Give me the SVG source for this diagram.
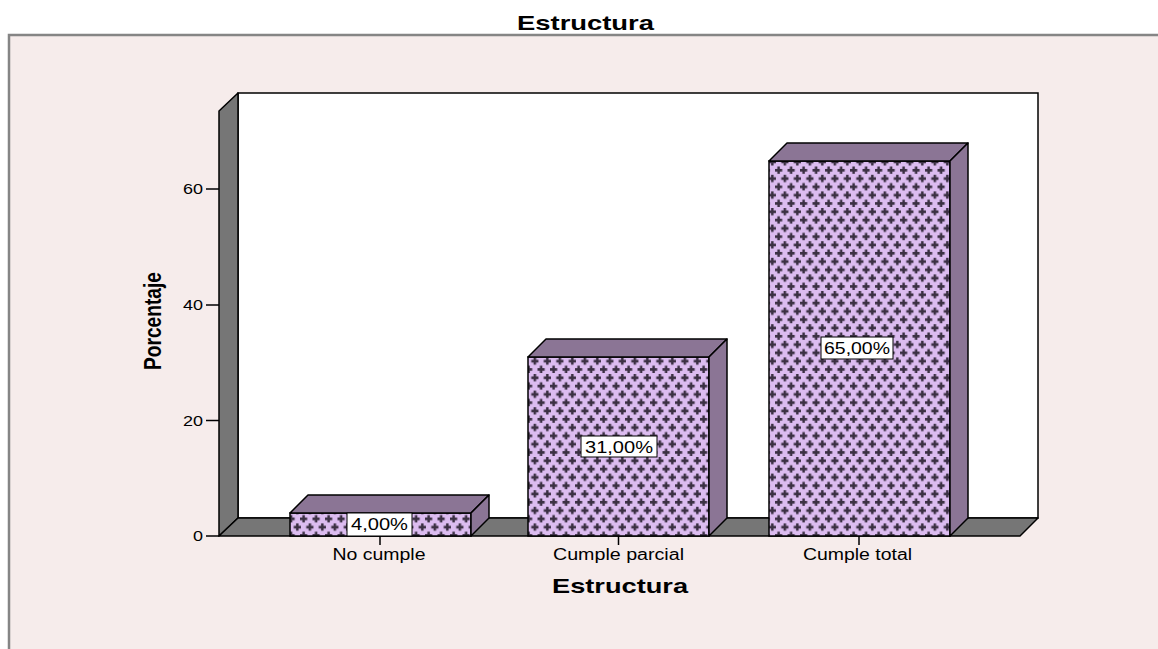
<svg xmlns="http://www.w3.org/2000/svg" width="1158" height="649" viewBox="0 0 1158 649">
<style>
text{font-family:"Liberation Sans",Arial,sans-serif;fill:#000}
.ttl{font-size:21px;font-weight:bold}
.tick{font-size:15px;text-anchor:end}
.cat{font-size:16px;text-anchor:middle}
.val{font-size:16px;text-anchor:middle}
.wall{fill:#767676;stroke:#000;stroke-width:1.5;stroke-linejoin:round}
.face{fill:#8B7595;stroke:#000;stroke-width:1.5;stroke-linejoin:round}
.front{fill:url(#cross);stroke:#000;stroke-width:1.5}
.box{fill:#fff;stroke:#000;stroke-width:1}
.tk{stroke:#000;stroke-width:1.5}
</style>
<defs>
<pattern id="cross" patternUnits="userSpaceOnUse" width="12.5" height="16.6">
<rect width="12.5" height="16.6" fill="#DCBCF0"/>
<path d="M0,3h7.2v2.5h-7.2zM2.35,0.6h2.5v7.2h-2.5z M6.25,11.3h7.2v2.5h-7.2zM8.6,8.9h2.5v7.2h-2.5z M-6.25,11.3h7.2v2.5h-7.2z" fill="#3B3043"/>
</pattern>
</defs>
<rect x="0" y="0" width="1158" height="649" fill="#fff"/>
<g id="frame">
<rect x="9" y="35" width="1160" height="630" fill="#F6ECEB"/>
<path d="M9,649V35H1158" fill="none" stroke="#858585" stroke-width="2.5"/>
</g>
<g id="title"><text class="ttl" x="517" y="30" textLength="137" lengthAdjust="spacingAndGlyphs">Estructura</text></g>
<g id="walls">
<rect x="238" y="93" width="800" height="425" fill="#fff" stroke="#000" stroke-width="1.5"/>
<polygon class="wall" points="219,111 238,93 238,518 219,536"/>
<polygon class="wall" points="219,536 238,518 1038,518 1020,536"/>
</g>
<g id="y-axis">
<line class="tk" x1="206" y1="536" x2="219" y2="536"/>
<line class="tk" x1="206" y1="420.5" x2="219" y2="420.5"/>
<line class="tk" x1="206" y1="305" x2="219" y2="305"/>
<line class="tk" x1="206" y1="189" x2="219" y2="189"/>
<text class="tick" x="203" y="541" textLength="10" lengthAdjust="spacingAndGlyphs">0</text>
<text class="tick" x="203" y="425.5" textLength="20" lengthAdjust="spacingAndGlyphs">20</text>
<text class="tick" x="203" y="310" textLength="20" lengthAdjust="spacingAndGlyphs">40</text>
<text class="tick" x="203" y="194" textLength="20" lengthAdjust="spacingAndGlyphs">60</text>
<text transform="translate(161,370) rotate(-90)" style="font-size:23px;font-weight:bold" x="0" y="0" textLength="98" lengthAdjust="spacingAndGlyphs">Porcentaje</text>
</g>
<g id="bar-no-cumple">
<rect class="front" x="290" y="513" width="181" height="23"/>
<polygon class="face" points="290,513 308,495 489,495 471,513"/>
<polygon class="face" points="471,513 489,495 489,518 471,536"/>
<rect class="box" x="347" y="513" width="65" height="23"/>
<text class="val" x="379.5" y="530" textLength="57" lengthAdjust="spacingAndGlyphs">4,00%</text>
</g>
<g id="bar-cumple-parcial">
<rect class="front" x="528" y="357" width="181" height="179"/>
<polygon class="face" points="528,357 546,339 727,339 709,357"/>
<polygon class="face" points="709,357 727,339 727,518 709,536"/>
<rect class="box" x="581" y="436" width="76" height="21"/>
<text class="val" x="619" y="452.5" textLength="68" lengthAdjust="spacingAndGlyphs">31,00%</text>
</g>
<g id="bar-cumple-total">
<rect class="front" x="769" y="161" width="181" height="375"/>
<polygon class="face" points="769,161 787,143 968,143 950,161"/>
<polygon class="face" points="950,161 968,143 968,518 950,536"/>
<rect class="box" x="821" y="337" width="72" height="22"/>
<text class="val" x="857" y="354" textLength="66" lengthAdjust="spacingAndGlyphs">65,00%</text>
</g>
<g id="x-axis">
<line class="tk" x1="380" y1="536" x2="380" y2="545"/>
<line class="tk" x1="618.5" y1="536" x2="618.5" y2="545"/>
<line class="tk" x1="859" y1="536" x2="859" y2="545"/>
<text class="cat" x="379" y="560" textLength="93" lengthAdjust="spacingAndGlyphs">No cumple</text>
<text class="cat" x="618.5" y="560" textLength="131" lengthAdjust="spacingAndGlyphs">Cumple parcial</text>
<text class="cat" x="857.5" y="560" textLength="109" lengthAdjust="spacingAndGlyphs">Cumple total</text>
<text class="ttl" x="552" y="593" textLength="136" lengthAdjust="spacingAndGlyphs">Estructura</text>
</g>
</svg>
